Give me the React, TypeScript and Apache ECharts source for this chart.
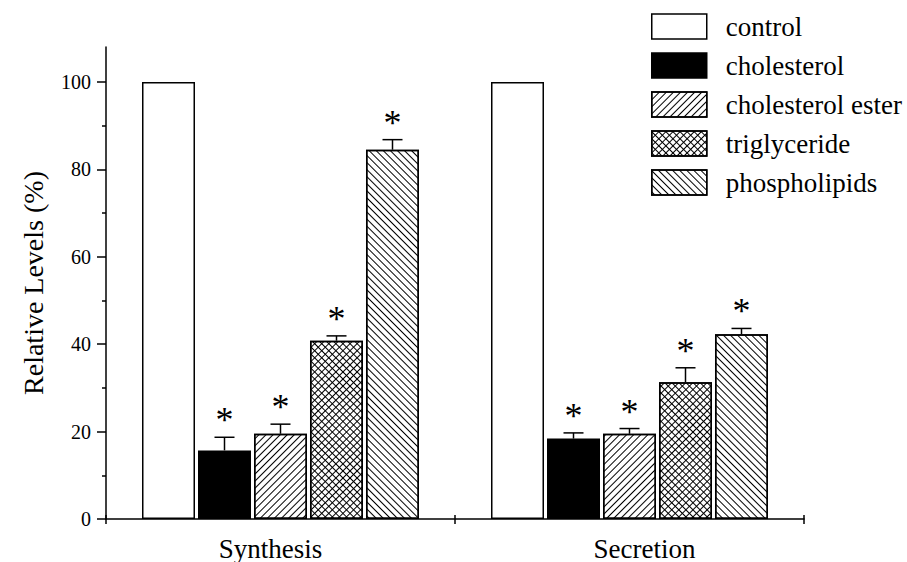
import React, { useEffect, useRef } from 'react';
import * as echarts from 'echarts';

// ---- data ----
const categories = ['Synthesis', 'Secretion'];
const seriesNames = ['control', 'cholesterol', 'cholesterol ester', 'triglyceride', 'phospholipids'];
const controlValues = [100, 100];
const cholesterolValues = [15.7, 18.4];
const cholesterolErr = [3.0, 1.3];
const esterValues = [19.5, 19.5];
const esterErr = [2.2, 1.2];
const trigValues = [40.8, 31.3];
const trigErr = [1.1, 3.3];
const phosphoValues = [84.5, 42.3];
const phosphoErr = [2.3, 1.3];
const yTickLabels = [0, 20, 40, 60, 80, 100];
const yMinorTicks = [10, 30, 50, 70, 90];
const yMax = 108;

const FONT = 'Liberation Serif, Times New Roman, serif';
const BAR_W = 53;
const BAR_GAP = 3;

export default function App() {
  const ref = useRef<HTMLDivElement>(null);

  useEffect(() => {
    if (!ref.current) return;
    const chart = echarts.init(ref.current, undefined, { renderer: 'svg' });

    const border = { borderColor: '#000', borderWidth: 1.5 };
    const lineDecal = (rot: number) => ({
      symbol: 'rect',
      symbolSize: 1,
      symbolKeepAspect: false,
      dashArrayX: [1, 0],
      dashArrayY: [1, 4],
      rotation: rot,
      color: '#000',
    });
    const crossDecal = {
      symbol: 'rect',
      symbolSize: 1,
      symbolKeepAspect: false,
      dashArrayX: [[1, 0], [1, 4]],
      dashArrayY: [1, 0, 4, 0],
      rotation: Math.PI / 4,
      color: '#000',
    };

    const valueSets = [controlValues, cholesterolValues, esterValues, trigValues, phosphoValues];
    const errSets = [null, cholesterolErr, esterErr, trigErr, phosphoErr];
    const styles: any[] = [
      { color: '#fff', ...border },
      { color: '#000', ...border },
      { color: '#fff', ...border, decal: lineDecal(-Math.PI / 4) },
      { color: '#fff', ...border, decal: crossDecal },
      { color: '#fff', ...border, decal: lineDecal(Math.PI / 4) },
    ];

    const barSeries = seriesNames.map((name, k) => ({
      name,
      type: 'bar',
      data: valueSets[k],
      barWidth: BAR_W,
      barGap: ((BAR_GAP / BAR_W) * 100).toFixed(2) + '%',
      itemStyle: styles[k],
      emphasis: { disabled: true },
    }));

    const errData: number[][] = [];
    errSets.forEach((errs, k) => {
      if (!errs) return;
      categories.forEach((_, c) => {
        errData.push([c, valueSets[k][c], errs[c], k]);
      });
    });

    const errorSeries = {
      name: 'errors',
      type: 'custom',
      data: errData,
      z: 5,
      renderItem: (_params: any, api: any) => {
        const cat = api.value(0);
        const val = api.value(1);
        const err = api.value(2);
        const k = api.value(3);
        const base = api.coord([cat, val]);
        const top = api.coord([cat, val + err]);
        const x = base[0] + (k - 2) * (BAR_W + BAR_GAP);
        const ls = { stroke: '#000', lineWidth: 1.5 };
        return {
          type: 'group',
          children: [
            { type: 'line', shape: { x1: x, y1: base[1], x2: x, y2: top[1] }, style: ls },
            { type: 'line', shape: { x1: x - 10, y1: top[1], x2: x + 10, y2: top[1] }, style: ls },
            {
              type: 'text',
              x,
              y: top[1] - 17,
              style: {
                text: '*',
                fontSize: 36,
                fontFamily: FONT,
                fill: '#000',
                textAlign: 'center',
                textVerticalAlign: 'middle',
              },
            },
          ],
        };
      },
    };

    chart.setOption({
      animation: false,
      backgroundColor: '#fff',
      legend: {
        data: seriesNames,
        orient: 'vertical',
        left: 646,
        top: 8,
        icon: 'rect',
        itemWidth: 55,
        itemHeight: 25,
        itemGap: 12,
        selectedMode: false,
        itemStyle: { borderColor: '#000', borderWidth: 1.5 },
        textStyle: { fontFamily: FONT, fontSize: 27, color: '#000', padding: [0, 0, 8, 14] },
      },
      grid: { left: 106, right: 103, top: 47, bottom: 41 },
      xAxis: [
        {
          type: 'category',
          data: categories,
          axisLine: { lineStyle: { color: '#000', width: 1.5 } },
          axisTick: { show: true, length: 5, lineStyle: { color: '#000', width: 1.5 } },
          axisLabel: {
            color: '#000',
            fontFamily: FONT,
            fontSize: 27,
            margin: 16,
            formatter: (v: string) => (v === categories[0] ? '{a|' + v + '}' : '{b|' + v + '}'),
            rich: {
              a: { fontFamily: FONT, fontSize: 27, color: '#000', padding: [0, 20, 0, 0] },
              b: { fontFamily: FONT, fontSize: 27, color: '#000', padding: [0, 0, 0, 30] },
            },
          },
        },
        {
          type: 'category',
          data: categories,
          position: 'bottom',
          axisLine: { show: false },
          axisTick: { show: true, inside: true, length: 4, lineStyle: { color: '#000', width: 1.5 } },
          axisLabel: { show: false },
        },
      ],
      yAxis: [
        {
          type: 'value',
          min: 0,
          max: yMax,
          name: 'Relative Levels (%)',
          nameLocation: 'middle',
          nameGap: 59,
          nameTextStyle: { fontFamily: FONT, fontSize: 28, color: '#000' },
          splitLine: { show: false },
          axisLine: { show: true, lineStyle: { color: '#000', width: 1.5 } },
          axisTick: { show: true, length: 9, customValues: yTickLabels, lineStyle: { color: '#000', width: 1.5 } },
          axisLabel: { color: '#000', fontFamily: FONT, fontSize: 20, margin: 15, customValues: yTickLabels },
        },
        {
          type: 'value',
          min: 0,
          max: yMax,
          position: 'left',
          splitLine: { show: false },
          axisLine: { show: false },
          axisTick: { show: true, length: 4, customValues: yMinorTicks, lineStyle: { color: '#000', width: 1.5 } },
          axisLabel: { show: false },
        },
      ],
      series: [...barSeries, errorSeries],
    });

    return () => chart.dispose();
  }, []);

  return <div ref={ref} style={{ position: 'fixed', left: 0, top: 0, width: 907, height: 562 }} />;
}
